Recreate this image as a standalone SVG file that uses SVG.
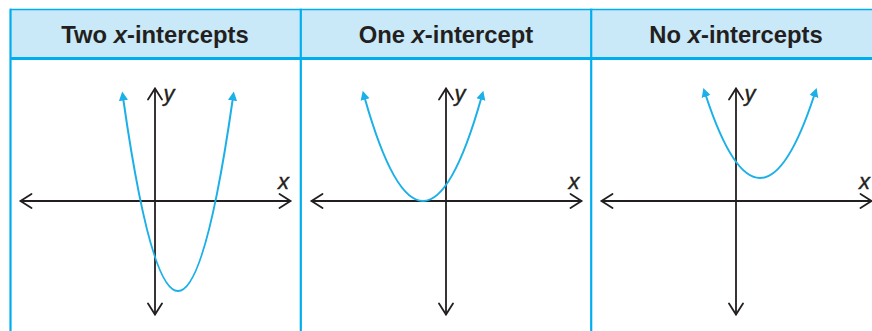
<svg xmlns="http://www.w3.org/2000/svg" width="872" height="331" viewBox="0 0 872 331">
  <style>
    .hdr { fill: #c9e9f8; }
    .border { stroke: #00aeef; fill: none; }
    .title { font-family: "Liberation Sans", Arial, sans-serif; font-weight: bold; font-size: 23.8px; fill: #231f20; text-anchor: middle; }
    .axis { stroke: #231f20; stroke-width: 1.8; fill: none; }
    .chev { stroke: #231f20; stroke-width: 1.8; fill: none; stroke-linecap: round; stroke-linejoin: miter; }
    .curve { stroke: #1cb0e8; stroke-width: 2; fill: none; marker-start: url(#ah); marker-end: url(#ah); }
    .lbl { font-family: "Liberation Sans", Arial, sans-serif; font-style: italic; font-size: 22px; fill: #231f20; stroke: #231f20; stroke-width: 0.4; }
  </style>
  <defs>
    <marker id="ah" markerUnits="userSpaceOnUse" markerWidth="10" markerHeight="10" viewBox="0 -5 10 10" refX="0.5" refY="0" orient="auto-start-reverse">
      <path d="M0,-4.6 L9,0 L0,4.6 z" fill="#1cb0e8"/>
    </marker>
  </defs>

  <rect width="872" height="331" fill="#ffffff"/>

  <g id="table">
    <rect class="hdr" x="10" y="9.5" width="870" height="48.5"/>
    <line class="border" x1="10" y1="9.5" x2="872" y2="9.5" stroke-width="1.6"/>
    <line class="border" x1="10" y1="58.5" x2="872" y2="58.5" stroke-width="3"/>
    <line class="border" x1="10.5" y1="8.7" x2="10.5" y2="331" stroke-width="2.2"/>
    <line class="border" x1="300.8" y1="8.7" x2="300.8" y2="331" stroke-width="2.2"/>
    <line class="border" x1="591.2" y1="8.7" x2="591.2" y2="331" stroke-width="2.2"/>
  </g>

  <g id="panel-two">
    <text class="title" x="155" y="42.5">Two <tspan font-style="italic">x</tspan>-intercepts</text>
    <line class="axis" x1="20.5" y1="201" x2="290.5" y2="201"/>
    <line class="axis" x1="155" y1="88.5" x2="155" y2="314.5"/>
    <path class="chev" d="M31.5,194 L20.5,201 L31.5,208 M279.5,194 L290.5,201 L279.5,208 M148,99.5 L155,88.5 L162,99.5 M148,303.5 L155,314.5 L162,303.5"/>
    <text class="lbl" x="278" y="189">x</text>
    <text class="lbl" x="163.5" y="100.5">y</text>
    <path class="curve" d="M123.4,100 Q178,482 232.6,100"/>
  </g>

  <g id="panel-one">
    <text class="title" x="446" y="42.5">One <tspan font-style="italic">x</tspan>-intercept</text>
    <line class="axis" x1="311.5" y1="201" x2="581.5" y2="201"/>
    <line class="axis" x1="446" y1="88.5" x2="446" y2="314.5"/>
    <path class="chev" d="M322.5,194 L311.5,201 L322.5,208 M570.5,194 L581.5,201 L570.5,208 M439,99.5 L446,88.5 L453,99.5 M439,303.5 L446,314.5 L453,303.5"/>
    <text class="lbl" x="568.5" y="189">x</text>
    <text class="lbl" x="454.5" y="100.5">y</text>
    <path class="curve" d="M365,99 Q423,303 481,99"/>
  </g>

  <g id="panel-none">
    <text class="title" x="736" y="42.5">No <tspan font-style="italic">x</tspan>-intercepts</text>
    <line class="axis" x1="601.5" y1="201" x2="871.5" y2="201"/>
    <line class="axis" x1="736" y1="88.5" x2="736" y2="314.5"/>
    <path class="chev" d="M612.5,194 L601.5,201 L612.5,208 M860.5,194 L871.5,201 L860.5,208 M729,99.5 L736,88.5 L743,99.5 M729,303.5 L736,314.5 L743,303.5"/>
    <text class="lbl" x="859" y="189">x</text>
    <text class="lbl" x="744.5" y="100.5">y</text>
    <path class="curve" d="M706,96 Q760,260 814,96"/>
  </g>
</svg>
